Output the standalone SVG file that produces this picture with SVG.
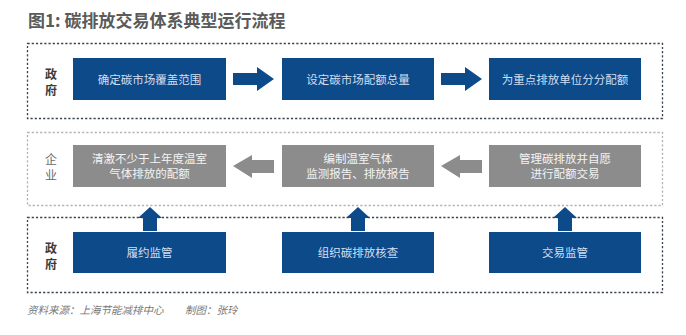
<svg xmlns="http://www.w3.org/2000/svg" width="686" height="335" viewBox="0 0 686 335">
<style>
.title{font-family:"Noto Sans CJK SC","Noto Sans",sans-serif;font-size:17px;font-weight:bold;fill:#5a5a5a}
.frame{fill:none;stroke:#3a4450;stroke-width:1.3;stroke-dasharray:2.2 2}
.frame-light{fill:none;stroke:#b3b3b3;stroke-width:1.3;stroke-dasharray:2.2 2}
.blue{fill:#0c4a8a}
.gray{fill:#8c8c8c}
.t{font-family:"Noto Sans CJK SC","Noto Sans",sans-serif;font-size:11.5px;text-anchor:middle}
.tb{fill:#d3dff0}
.tg{fill:#f4f4f4}
.lab{font-family:"Noto Sans CJK SC","Noto Sans",sans-serif;font-size:12px;text-anchor:middle;font-weight:bold;fill:#3a3a3a}
.lab2{font-family:"Noto Sans CJK SC","Noto Sans",sans-serif;font-size:12px;text-anchor:middle;fill:#6a6a6a}
.foot{font-family:"Noto Sans CJK SC","Noto Sans",sans-serif;font-size:10.5px;font-style:italic;fill:#777}
</style>
<rect width="686" height="335" fill="#ffffff"/>
<text class="title" x="28" y="27">图1: 碳排放交易体系典型运行流程</text>

<g id="frames">
<rect class="frame" x="27.5" y="43.5" width="635" height="75"/>
<rect class="frame-light" x="27.5" y="132.5" width="635" height="73"/>
<rect class="frame" x="27.5" y="217.5" width="635" height="75"/>
</g>

<g id="labels">
<text class="lab" x="51" y="79">政</text>
<text class="lab" x="51" y="95">府</text>
<text class="lab2" x="51" y="164">企</text>
<text class="lab2" x="51" y="180">业</text>
<text class="lab" x="51" y="253">政</text>
<text class="lab" x="51" y="269">府</text>
</g>

<g id="n1"><rect class="blue" x="73" y="58" width="153" height="42"/><text class="t tb" x="149.5" y="83.5">确定碳市场覆盖范围</text></g>
<g id="n2"><rect class="blue" x="282" y="58" width="152" height="42"/><text class="t tb" x="358" y="83.5">设定碳市场配额总量</text></g>
<g id="n3"><rect class="blue" x="489" y="58" width="152" height="42"/><text class="t tb" x="565" y="83.5">为重点排放单位分分配额</text></g>

<g id="n4"><rect class="gray" x="73" y="145" width="153" height="42"/><text class="t tg" x="149.5" y="163">清激不少于上年度温室</text><text class="t tg" x="149.5" y="178">气体排放的配额</text></g>
<g id="n5"><rect class="gray" x="282" y="145" width="152" height="42"/><text class="t tg" x="358" y="163">编制温室气体</text><text class="t tg" x="358" y="178">监测报告、排放报告</text></g>
<g id="n6"><rect class="gray" x="489" y="145" width="152" height="42"/><text class="t tg" x="565" y="163">管理碳排放并自愿</text><text class="t tg" x="565" y="178">进行配额交易</text></g>

<g id="n7"><rect class="blue" x="73" y="232" width="153" height="41"/><text class="t tb" x="149.5" y="256.5">履约监管</text></g>
<g id="n8"><rect class="blue" x="282" y="232" width="152" height="41"/><text class="t tb" x="358" y="256.5">组织碳排放核查</text></g>
<g id="n9"><rect class="blue" x="489" y="232" width="152" height="41"/><text class="t tb" x="565" y="256.5">交易监管</text></g>

<g id="connectors">
<polygon class="blue" points="233,73 257,73 257,67 274,79 257,91 257,85 233,85"/>
<polygon class="blue" points="441,73 465,73 465,67 482,79 465,91 465,85 441,85"/>
<polygon class="gray" points="274,160 252,160 252,155 233,166 252,178 252,173 274,173"/>
<polygon class="gray" points="482,160 460,160 460,155 441,166 460,178 460,173 482,173"/>
<polygon class="blue" points="143,231 143,218 138,218 150,207 162,218 157,218 157,231"/>
<polygon class="blue" points="351,231 351,218 346,218 358,207 370,218 365,218 365,231"/>
<polygon class="blue" points="558,231 558,218 553,218 565,207 577,218 572,218 572,231"/>
</g>

<text class="foot" x="27" y="314">资料来源：上海节能减排中心</text>
<text class="foot" x="185" y="314">制图：张玲</text>
</svg>
